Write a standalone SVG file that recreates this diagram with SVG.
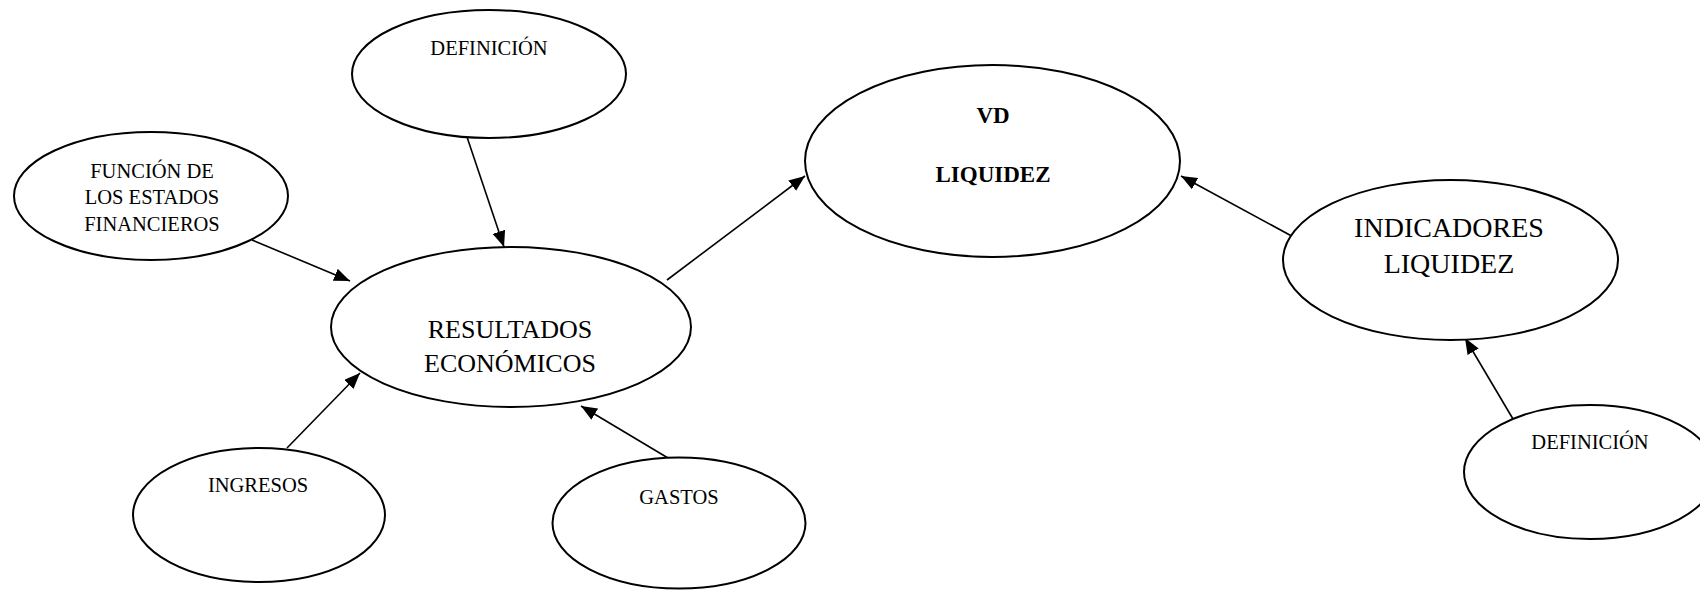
<svg xmlns="http://www.w3.org/2000/svg" width="1700" height="590" viewBox="0 0 1700 590">
<style>
  .node ellipse { fill: #ffffff; stroke: #000000; stroke-width: 2; }
  .t { font-family: "Liberation Serif", "Times New Roman", serif; fill: #000000; text-anchor: middle; }
  .s { font-size: 20.5px; }
  .m { font-size: 26px; }
  .l { font-size: 28px; }
  .b { font-size: 23px; font-weight: bold; }
  .edge { stroke: #000000; stroke-width: 1.6; fill: none; marker-end: url(#arrow); }
</style>
<defs>
  <marker id="arrow" markerUnits="userSpaceOnUse" markerWidth="17" markerHeight="13" refX="16" refY="6.5" orient="auto">
    <path d="M0,0 L16,6.5 L0,13 z" fill="#000000"/>
  </marker>
</defs>
<rect width="1700" height="590" fill="#ffffff"/>
<g id="connectors">
  <line class="edge" x1="467" y1="137" x2="504" y2="247"/>
  <line class="edge" x1="252" y1="240" x2="350" y2="281"/>
  <line class="edge" x1="287" y1="448" x2="360" y2="373"/>
  <line class="edge" x1="668" y1="458" x2="581" y2="406"/>
  <line class="edge" x1="667" y1="280" x2="805" y2="176"/>
  <line class="edge" x1="1299" y1="240" x2="1181" y2="176"/>
  <line class="edge" x1="1513" y1="419" x2="1465" y2="338"/>
</g>
<g id="node-definicion-1" class="node">
  <ellipse cx="489" cy="74" rx="137" ry="64"/>
  <text class="t s" x="489" y="55">DEFINICIÓN</text>
</g>
<g id="node-funcion" class="node">
  <ellipse cx="151" cy="196" rx="137" ry="64"/>
  <text class="t s" x="152" y="178">FUNCIÓN DE</text>
  <text class="t s" x="152" y="204">LOS ESTADOS</text>
  <text class="t s" x="152" y="231">FINANCIEROS</text>
</g>
<g id="node-resultados" class="node">
  <ellipse cx="511" cy="327" rx="180" ry="80"/>
  <text class="t m" x="510" y="338">RESULTADOS</text>
  <text class="t m" x="510" y="372">ECONÓMICOS</text>
</g>
<g id="node-ingresos" class="node">
  <ellipse cx="259" cy="515" rx="126" ry="67"/>
  <text class="t s" x="258" y="492">INGRESOS</text>
</g>
<g id="node-gastos" class="node">
  <ellipse cx="679" cy="523" rx="126.5" ry="65.5"/>
  <text class="t s" x="679" y="504">GASTOS</text>
</g>
<g id="node-vd-liquidez" class="node">
  <ellipse cx="992.5" cy="161" rx="187.5" ry="96"/>
  <text class="t b" x="993" y="123">VD</text>
  <text class="t b" x="993" y="182">LIQUIDEZ</text>
</g>
<g id="node-indicadores" class="node">
  <ellipse cx="1450.5" cy="260" rx="167.5" ry="80"/>
  <text class="t l" x="1449" y="237">INDICADORES</text>
  <text class="t l" x="1449" y="273">LIQUIDEZ</text>
</g>
<g id="node-definicion-2" class="node">
  <ellipse cx="1590" cy="472" rx="126" ry="67"/>
  <text class="t s" x="1590" y="449">DEFINICIÓN</text>
</g>
</svg>
